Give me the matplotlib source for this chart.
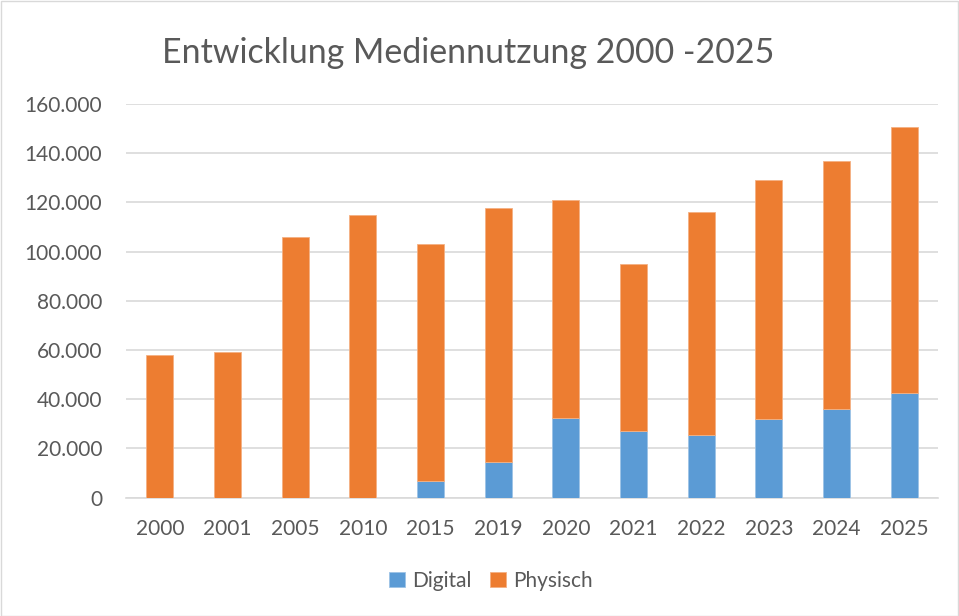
import matplotlib
matplotlib.use("Agg")
import matplotlib.pyplot as plt
from matplotlib.patches import Rectangle
from matplotlib.ticker import FuncFormatter
import numpy as np

years = ["2000", "2001", "2005", "2010", "2015", "2019", "2020", "2021", "2022", "2023", "2024", "2025"]
digital = [0, 0, 0, 0, 6900, 14400, 32300, 27100, 25600, 31900, 35900, 42400]
totals = [58000, 59200, 106100, 114900, 103100, 117800, 121000, 95000, 116000, 129300, 136900, 150800]
physisch = [t - d for t, d in zip(totals, digital)]

title = "Entwicklung Mediennutzung 2000 -2025"
c_dig = "#5B9BD5"
c_phy = "#ED7D31"
txt = "#595959"

plt.rcParams['font.family'] = ['Lato', 'DejaVu Sans']

fig = plt.figure(figsize=(9.59, 6.16), dpi=100)
W, H = 959, 616
ax = fig.add_axes([126 / W, 1 - 497.7 / H, (938 - 126) / W, (497.7 - 104) / H])

x = np.arange(len(years))
ax.bar(x, digital, width=0.4, color=c_dig, edgecolor="#9DC3E6", linewidth=0.6, label="Digital", zorder=3)
ax.bar(x, physisch, bottom=digital, width=0.4, color=c_phy, edgecolor="#F4B183", linewidth=0.6, label="Physisch", zorder=3)

ax.set_xlim(-0.5, len(years) - 0.5)
ax.set_ylim(0, 160000)
ax.set_yticks(np.arange(0, 160001, 20000))
ax.yaxis.set_major_formatter(FuncFormatter(lambda v, p: f"{int(v):,}".replace(",", ".")))
ax.set_xticks(x)
ax.set_xticklabels(years)
ax.grid(axis="y", color="#D9D9D9", linewidth=1.2, zorder=0)
for s in ["top", "right", "left"]:
    ax.spines[s].set_visible(False)
ax.spines["bottom"].set_color("#D9D9D9")
ax.spines["bottom"].set_linewidth(1.2)
ax.tick_params(axis="both", length=0, labelsize=15, colors=txt)
ax.tick_params(axis="y", pad=17)
ax.tick_params(axis="x", pad=15)

fig.text(468 / W, 1 - 63 / H, title, ha="center", va="baseline", fontsize=24.4, color=txt)

handles, labels = ax.get_legend_handles_labels()
leg = fig.legend(handles, labels, loc="center", bbox_to_anchor=(491 / W, 1 - 581 / H), ncol=2,
                 frameon=False, fontsize=15, handlelength=0.75, handleheight=0.75,
                 handletextpad=0.35, columnspacing=0.9, labelcolor=txt)

fig.patches.append(Rectangle((0.5 / W, 0.5 / H), 1 - 1.5 / W, 1 - 1.5 / H, transform=fig.transFigure,
                             fill=False, edgecolor="#D9D9D9", linewidth=1))

fig.savefig("out.png", dpi=100)
